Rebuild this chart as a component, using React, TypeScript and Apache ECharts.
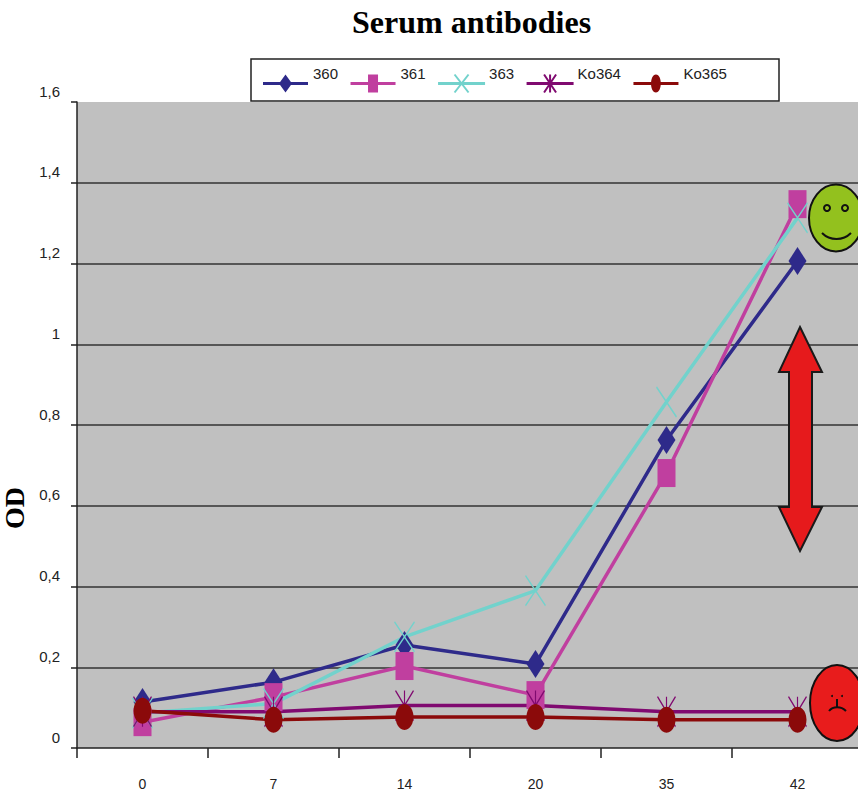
import React, { useEffect, useRef } from "react";
import * as echarts from "echarts";

const categories = ["0", "7", "14", "20", "35", "42"];
const s360 = [0.114, 0.163, 0.255, 0.208, 0.763, 1.206];
const s361 = [0.064, 0.126, 0.203, 0.131, 0.681, 1.347];
const s363 = [0.087, 0.11, 0.275, 0.39, 0.857, 1.313];
const ko364 = [0.09, 0.09, 0.105, 0.105, 0.09, 0.09];
const ko365 = [0.092, 0.07, 0.077, 0.077, 0.07, 0.07];

const X_SYMBOL = "path://M0 0L10 14M10 0L0 14";
const STAR_SYMBOL = "path://M0 0L10 14M10 0L0 14M5 0L5 14";

const LINE_FILLED = "M0 7.5L45 7.5L45 10.5L0 10.5Z";
const LINE_STROKED = "M0 8.5L45 8.5L45 9.5L0 9.5Z";
const seriesDefs = [
  { name: "360", data: s360, color: "#2e2a8a", symbol: "diamond", size: [18, 28], icon: `path://${LINE_FILLED}M22.5 0L29 9L22.5 18L16 9Z` },
  { name: "361", data: s361, color: "#c03f9f", symbol: "rect", size: [18, 28], icon: `path://${LINE_FILLED}M17.5 0L27.5 0L27.5 18L17.5 18Z` },
  { name: "363", data: s363, color: "#72d2cc", symbol: X_SYMBOL, size: [20, 30], icon: `path://${LINE_STROKED}M15.5 0L29.5 18M29.5 0L15.5 18` },
  { name: "Ko364", data: ko364, color: "#800a70", symbol: STAR_SYMBOL, size: [18, 30], icon: `path://${LINE_STROKED}M16.5 0L28.5 18M28.5 0L16.5 18M22.5 0L22.5 18` },
  { name: "Ko365", data: ko365, color: "#8b0a0a", symbol: "circle", size: [18, 26], icon: `path://${LINE_FILLED}M22.5 0C29 0 29 18 22.5 18C16 18 16 0 22.5 0Z` },
];

const ARROW_POINTS = [
  [800, 327], [822, 372], [812, 372], [812, 507], [822, 507], [800, 551],
  [779, 507], [789, 507], [789, 372], [779, 372],
];

export default function App() {
  const ref = useRef<HTMLDivElement>(null);
  useEffect(() => {
    const chart = echarts.init(ref.current!, null, { renderer: "svg" });
    const outline = { stroke: "#111", lineWidth: 2 };
    chart.setOption({
      animation: false,
      backgroundColor: "#ffffff",
      title: {
        text: "Serum antibodies",
        left: 352,
        top: 6,
        padding: 0,
        textStyle: { fontFamily: "Liberation Serif", fontWeight: "bold", fontSize: 32, color: "#000" },
      },
      legend: {
        left: 263,
        top: 66,
        padding: 0,
        itemGap: 12.5,
        itemWidth: 45,
        itemHeight: 18,
        symbolKeepAspect: false,
        formatter: "{t|{name}}",
        textStyle: {
          rich: {
            t: {
              fontFamily: "Liberation Sans",
              fontSize: 15,
              color: "#222",
              padding: [0, 0, 20, 0],
            },
          },
        },
        data: seriesDefs.map((s) => ({ name: s.name, icon: s.icon })),
      },
      grid: {
        left: 77, top: 102, width: 786, height: 646,
        outerBoundsMode: "none",
        show: true, backgroundColor: "#c0c0c0", borderWidth: 0,
      },
      xAxis: {
        type: "category",
        data: categories,
        boundaryGap: true,
        axisLine: { lineStyle: { color: "#222", width: 1.5 } },
        axisTick: { show: true, alignWithLabel: false, length: 10, lineStyle: { color: "#222", width: 1.5 } },
        axisLabel: { margin: 29, fontFamily: "Liberation Sans", fontSize: 14, color: "#222" },
        splitLine: { show: false },
      },
      yAxis: {
        type: "value",
        min: 0,
        max: 1.6,
        interval: 0.2,
        name: "OD",
        nameLocation: "middle",
        nameRotate: 90,
        nameGap: 42,
        nameTextStyle: {
          fontFamily: "Liberation Serif",
          fontWeight: "bold",
          fontSize: 28,
          color: "#000",
          padding: [0, 166, 0, 0],
        },
        axisLine: { show: true, lineStyle: { color: "#222", width: 1.5 } },
        axisTick: { show: true, length: 6, lineStyle: { color: "#222", width: 1.5 } },
        axisLabel: {
          margin: 17,
          fontFamily: "Liberation Sans",
          fontSize: 15,
          color: "#222",
          verticalAlign: "bottom",
          lineHeight: 22,
          formatter: (v: number) => String(Math.round(v * 10) / 10).replace(".", ","),
        },
        splitLine: { show: true, showMaxLine: false, showMinLine: false, lineStyle: { color: "#333", width: 1.5 } },
      },
      series: seriesDefs.map((s) => ({
        name: s.name,
        type: "line",
        data: s.data,
        symbol: s.symbol,
        symbolSize: s.size,
        showAllSymbol: true,
        clip: false,
        lineStyle: { color: s.color, width: 3.5 },
        itemStyle: {
          color: s.color,
          borderColor: s.color,
          borderWidth: s.symbol.startsWith("path") ? 1.5 : 0,
        },
      })),
      graphic: [
        { type: "rect", z: 3, shape: { x: 251, y: 59, width: 528, height: 42 }, style: { fill: "#fff", stroke: "#222", lineWidth: 1.5 } },
        { type: "ellipse", z: 10, shape: { cx: 836, cy: 218, rx: 27, ry: 33.5 }, style: { fill: "#93c11e", ...outline } },
        { type: "circle", z: 11, shape: { cx: 827, cy: 208, r: 3 }, style: { fill: "none", stroke: "#111", lineWidth: 2 } },
        { type: "circle", z: 11, shape: { cx: 845, cy: 208, r: 3 }, style: { fill: "none", stroke: "#111", lineWidth: 2 } },
        { type: "bezierCurve", z: 11, shape: { x1: 822, y1: 233, x2: 851, y2: 233, cpx1: 830, cpy1: 241, cpx2: 843, cpy2: 241 }, style: { fill: "none", stroke: "#111", lineWidth: 2 } },
        { type: "ellipse", z: 10, shape: { cx: 837, cy: 703, rx: 27, ry: 38 }, style: { fill: "#e81c1c", ...outline } },
        { type: "circle", z: 11, shape: { cx: 832, cy: 696, r: 1 }, style: { fill: "#111" } },
        { type: "circle", z: 11, shape: { cx: 842, cy: 696, r: 1 }, style: { fill: "#111" } },
        { type: "line", z: 11, shape: { x1: 837, y1: 699, x2: 837, y2: 708 }, style: { stroke: "#111", lineWidth: 2 } },
        { type: "bezierCurve", z: 11, shape: { x1: 829, y1: 711, x2: 846, y2: 711, cpx1: 833, cpy1: 706, cpx2: 841, cpy2: 706 }, style: { fill: "none", stroke: "#111", lineWidth: 2 } },
        { type: "polygon", z: 10, shape: { points: ARROW_POINTS }, style: { fill: "#e61a1c", stroke: "#1a1a1a", lineWidth: 2 } },
      ],
    });
    return () => chart.dispose();
  }, []);
  return (
    <div
      ref={ref}
      style={{ position: "fixed", left: 0, top: 0, width: 858, height: 792, overflow: "hidden" }}
    />
  );
}
